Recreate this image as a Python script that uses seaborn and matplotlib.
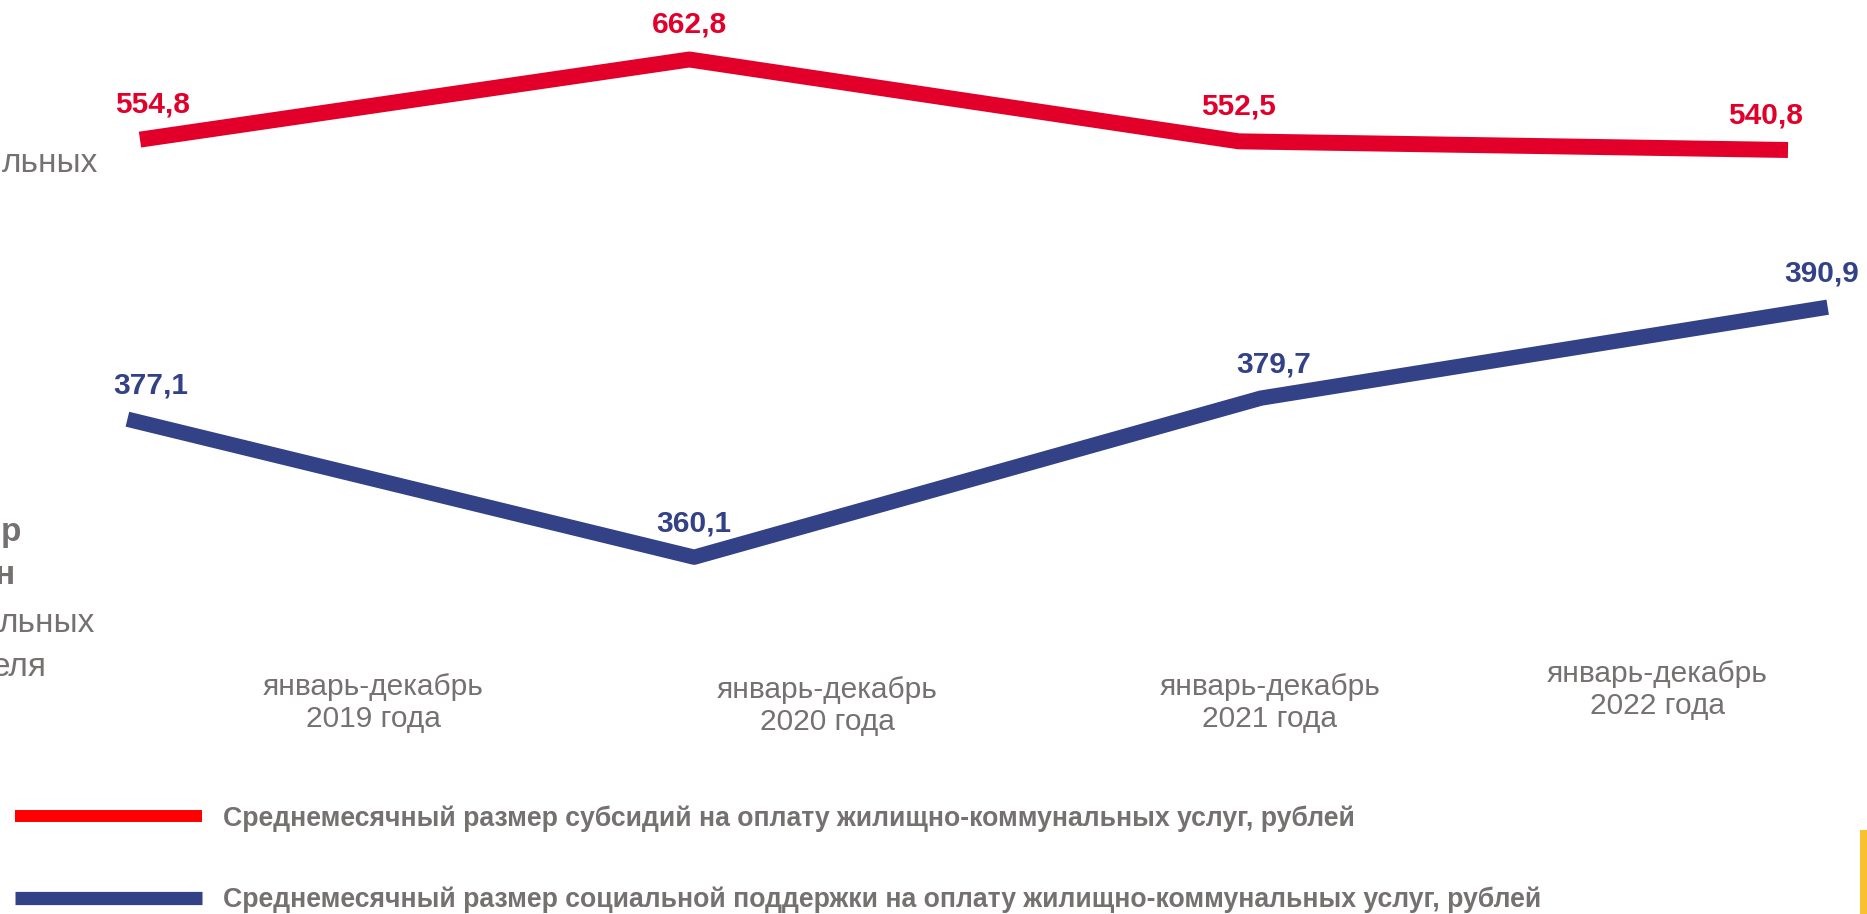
import numpy as np
import matplotlib.pyplot as plt
import seaborn as sns
from matplotlib.lines import Line2D
from matplotlib.patches import Rectangle

# data
years = ["2019", "2020", "2021", "2022"]
period_labels = [f"январь-декабрь\n{y} года" for y in years]
subsidy = [554.8, 662.8, 552.5, 540.8]
support = [377.1, 360.1, 379.7, 390.9]
subsidy_name = "Среднемесячный размер субсидий на оплату жилищно-коммунальных услуг, рублей"
support_name = ("Среднемесячный размер социальной поддержки на оплату "
                "жилищно-коммунальных услуг, рублей")
# fragments of the slide's side caption that stay visible at the left edge
side_fragments = ["льных", "р", "н", "льных", "еля"]

W, H = 1867, 914
RED = "#E2002B"
BLUE = "#334187"
GRAY = "#767171"

sns.set_style("white")
plt.rcParams["font.family"] = ["Liberation Sans", "DejaVu Sans"]


def px_rect(left, top, right, bottom):
    # pixel box (from top-left) -> figure fraction rect
    return [left / W, 1 - bottom / H, (right - left) / W, (bottom - top) / H]


def fmt(v):
    return f"{v:.1f}".replace(".", ",")


def draw_series(fig, rect, values, color, lw, dx, dy):
    ax = fig.add_axes(rect)
    ax.patch.set_alpha(0)
    x = np.arange(len(values))
    sns.lineplot(x=x, y=values, ax=ax, color=color, linewidth=lw)
    for line in ax.lines:
        line.set_clip_on(False)
        line.set_solid_capstyle("butt")
    ax.set_xlim(0, len(values) - 1)
    ax.set_ylim(min(values), max(values))
    ax.axis("off")
    for xi, v, d in zip(x, values, dx):
        ax.annotate(fmt(v), (xi, v), xytext=(d, dy), textcoords="offset points",
                    ha="center", va="center", color=color, fontsize=21.5,
                    fontweight="bold", annotation_clip=False)
    return ax


fig = plt.figure(figsize=(W / 100, H / 100), dpi=100)

draw_series(fig, px_rect(140, 59.5, 1788, 150), subsidy, RED, 11.5,
            [9, 0, 0, -16], 25)
draw_series(fig, px_rect(127.4, 307.2, 1827.7, 557.2), support, BLUE, 11,
            [17, 0, 9, -4], 24)

# period captions
cap_pos = [(373, 703), (827, 706), (1270, 703), (1657, 690)]
for (cx, cy), lab in zip(cap_pos, period_labels):
    fig.text(cx / W, 1 - cy / H, lab, ha="center", va="center",
             fontsize=21.5, color=GRAY, linespacing=1.2)

# side caption remnants
side_pos = [(98, 164, "normal"), (21, 533, "bold"), (15, 575, "bold"),
            (95, 623, "normal"), (47, 667, "normal")]
for txt, (rx, cy, fw) in zip(side_fragments, side_pos):
    fig.text(rx / W, 1 - cy / H, txt, ha="right", va="center",
             fontsize=24, fontweight=fw, color=GRAY)

# legend
handles = [Line2D([], [], color="#FF0000", lw=8.6, solid_capstyle="butt"),
           Line2D([], [], color=BLUE, lw=9.5, solid_capstyle="butt")]
fig.legend(handles, [subsidy_name, support_name], loc="upper left",
           bbox_to_anchor=(15 / W, 1 - 805 / H), frameon=False,
           borderpad=0, borderaxespad=0, handlelength=7.0, handletextpad=0.8,
           labelspacing=2.08, prop=dict(size=19.2, weight="bold"), labelcolor=GRAY)

fig.add_artist(Rectangle((1860 / W, 0), 7 / W, 84 / H, transform=fig.transFigure,
                         color="#FBC02D", lw=0))

fig.savefig("out.png", dpi=100)
